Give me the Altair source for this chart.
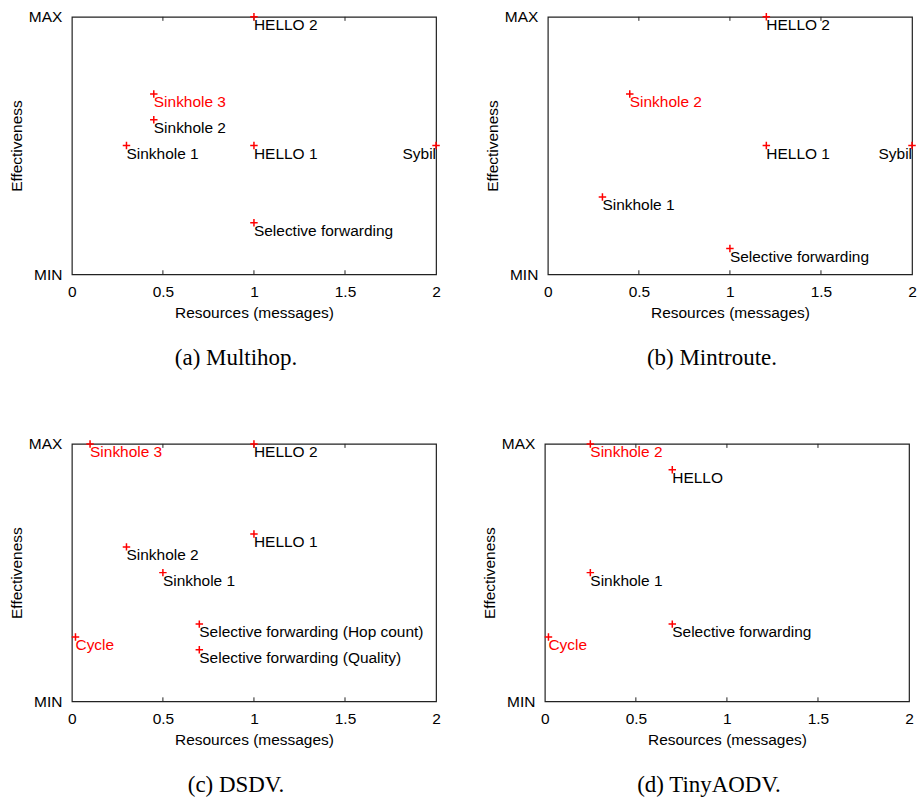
import altair as alt
import pandas as pd

# ---------------- data ----------------
# (a) Multihop
a_names = ["HELLO 2", "Sinkhole 3", "Sinkhole 2", "Sinkhole 1", "HELLO 1", "Sybil", "Selective forwarding"]
a_x = [1.0, 0.45, 0.45, 0.3, 1.0, 2.0, 1.0]
a_y = [1.0, 0.7, 0.6, 0.5, 0.5, 0.5, 0.2]
a_hl = ["no", "yes", "no", "no", "no", "no", "no"]

# (b) Mintroute
b_names = ["HELLO 2", "Sinkhole 2", "HELLO 1", "Sybil", "Sinkhole 1", "Selective forwarding"]
b_x = [1.2, 0.45, 1.2, 2.0, 0.3, 1.0]
b_y = [1.0, 0.7, 0.5, 0.5, 0.3, 0.1]
b_hl = ["no", "yes", "no", "no", "no", "no"]

# (c) DSDV
c_names = ["Sinkhole 3", "HELLO 2", "HELLO 1", "Sinkhole 2", "Sinkhole 1",
           "Selective forwarding (Hop count)", "Selective forwarding (Quality)", "Cycle"]
c_x = [0.1, 1.0, 1.0, 0.3, 0.5, 0.7, 0.7, 0.02]
c_y = [1.0, 1.0, 0.65, 0.6, 0.5, 0.3, 0.2, 0.25]
c_hl = ["yes", "no", "no", "no", "no", "no", "no", "yes"]

# (d) TinyAODV
d_names = ["Sinkhole 2", "HELLO", "Sinkhole 1", "Selective forwarding", "Cycle"]
d_x = [0.25, 0.7, 0.25, 0.7, 0.02]
d_y = [1.0, 0.9, 0.5, 0.3, 0.25]
d_hl = ["yes", "no", "no", "no", "yes"]

captions = ["(a) Multihop.", "(b) Mintroute.", "(c) DSDV.", "(d) TinyAODV."]
x_ticks = [0, 0.5, 1, 1.5, 2]
inner_ticks = [0.5, 1, 1.5]
y_ticks = [0, 1]

# ---------------- styling ----------------
SANS = "Liberation Sans"
SERIF = "Liberation Serif"
FS = 15.5
PLUS = "M-1,0L1,0M0,-1L0,1"
W, H = 365, 258


def panel(names, xs, ys, hl, caption):
    df = pd.DataFrame({"name": names, "x": xs, "y": ys, "hl": hl})
    xenc = alt.X("x:Q", scale=alt.Scale(domain=[0, 2], nice=False, zero=False),
                 axis=alt.Axis(values=x_ticks, title="Resources (messages)", format="~g",
                               labelFlush=False, labelOverlap=False, ticks=False,
                               domain=False, grid=False, labelPadding=10, titlePadding=6))
    yenc = alt.Y("y:Q", scale=alt.Scale(domain=[0, 1], nice=False),
                 axis=alt.Axis(values=y_ticks, title="Effectiveness",
                               labelExpr="datum.value == 1 ? 'MAX' : 'MIN'",
                               labelFlush=False, labelOverlap=False, ticks=False,
                               domain=False, grid=False, labelPadding=10, titlePadding=4))
    base = alt.Chart(df)
    color = alt.Color("hl:N", scale=alt.Scale(domain=["yes", "no"], range=["#ff0000", "#000000"]),
                      legend=None)
    left_lbl = base.transform_filter("datum.x < 2").mark_text(
        align="left", baseline="middle", dy=8, font=SANS, fontSize=FS
    ).encode(x=xenc, y=yenc, text="name:N", color=color)
    right_lbl = base.transform_filter("datum.x >= 2").mark_text(
        align="right", baseline="middle", dy=8, font=SANS, fontSize=FS
    ).encode(x=xenc, y=yenc, text="name:N", color=color)
    pts = base.mark_point(shape=PLUS, size=56, strokeWidth=1.5, color="#ff0000",
                          filled=False, opacity=1).encode(x=xenc, y=yenc)
    tdf = pd.DataFrame({"x": inner_ticks})
    tick_bot = alt.Chart(tdf).mark_rule(color="#222", strokeWidth=1).encode(
        x=alt.X("x:Q"), y=alt.value(H), y2=alt.value(H - 4))
    tick_top = alt.Chart(tdf).mark_rule(color="#222", strokeWidth=1).encode(
        x=alt.X("x:Q"), y=alt.value(0), y2=alt.value(4))
    return alt.layer(tick_bot, tick_top, left_lbl, right_lbl, pts).properties(
        width=W, height=H,
        title=alt.TitleParams(caption, orient="bottom", font=SERIF, fontSize=23,
                              fontWeight="normal", color="#000", anchor="middle",
                              frame="group", dx=-18, offset=26),
    )


pa = panel(a_names, a_x, a_y, a_hl, captions[0])
pb = panel(b_names, b_x, b_y, b_hl, captions[1])
pc = panel(c_names, c_x, c_y, c_hl, captions[2])
pd_ = panel(d_names, d_x, d_y, d_hl, captions[3])

chart = alt.vconcat(
    alt.hconcat(pa, pb, spacing=40),
    alt.hconcat(pc, pd_, spacing=40),
    spacing=65,
).properties(
    padding={"left": 8, "top": 8, "right": 0, "bottom": 0},
    background="white",
).configure_view(
    stroke="#222", strokeWidth=1.2
).configure_axis(
    labelFont=SANS, labelFontSize=FS, labelColor="#000",
    titleFont=SANS, titleFontSize=FS, titleColor="#000", titleFontWeight="normal",
)

chart.save("out.html", embed_options={"renderer": "svg", "actions": False})
